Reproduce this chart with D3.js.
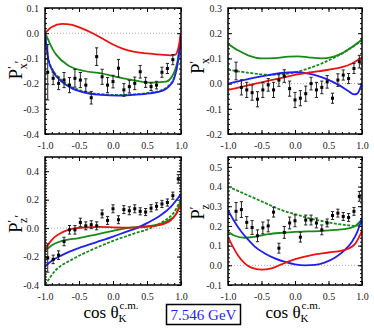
<!DOCTYPE html>
<html>
<head>
<meta charset="utf-8">
<script src="https://cdn.jsdelivr.net/npm/d3@7"></script>
<style>
    body { margin: 0; background: #fff; }
    svg { display: block; font-family: "Liberation Serif", "DejaVu Serif", serif; }
</style>
</head>
<body>
<div id="chart"></div>
<script>
// cos(theta_K) bin centres shared by all four panels
const cosBins = [-0.96, -0.88, -0.80, -0.72, -0.64, -0.56, -0.48, -0.40, -0.32, -0.24, -0.16, -0.08,
    0.00, 0.08, 0.16, 0.24, 0.32, 0.40, 0.48, 0.56, 0.64, 0.72, 0.80, 0.88, 0.96];

// P'x' (top left)
const pxPrimeVals = [-0.155, -0.179, -0.199, -0.186, -0.206, -0.179, -0.186, -0.206, -0.256, -0.093, -0.173, -0.206,
    -0.192, -0.139, -0.225, -0.212, -0.199, -0.153, -0.195, -0.212, -0.206, -0.155, -0.140, -0.105, null];
const pxPrimeErrs = [0.11, 0.025, 0.025, 0.03, 0.03, 0.035, 0.03, 0.025, 0.025, 0.035, 0.03, 0.03,
    0.025, 0.035, 0.025, 0.025, 0.025, 0.025, 0.02, 0.015, 0.015, 0.02, 0.02, 0.02, null];
const pxPrimeRed = [[-1, 0], [-0.9, 0.025], [-0.75, 0.037], [-0.6, 0.033], [-0.45, 0.018], [-0.3, 0.0], [-0.15, -0.022],
    [0, -0.045], [0.15, -0.062], [0.3, -0.073], [0.5, -0.08], [0.7, -0.085], [0.85, -0.088], [0.92, -0.085], [0.96, -0.06], [1, 0]];
const pxPrimeBlue = [[-1, 0], [-0.95, -0.106], [-0.88, -0.153], [-0.78, -0.186], [-0.63, -0.215], [-0.42, -0.236], [-0.17, -0.245],
    [0.07, -0.248], [0.29, -0.245], [0.54, -0.239], [0.73, -0.228], [0.82, -0.212], [0.9, -0.18], [0.96, -0.106], [1, 0]];
const pxPrimeGreen = [[-1, 0], [-0.98, -0.01], [-0.93, -0.04], [-0.88, -0.067], [-0.83, -0.087], [-0.67, -0.126], [-0.42, -0.15],
    [-0.17, -0.159], [0, -0.17], [0.29, -0.186], [0.54, -0.196], [0.78, -0.192], [0.88, -0.166], [0.96, -0.093], [1, 0]];
const pxPrimeGreenDash = [[-1, 0], [-0.95, -0.1], [-0.88, -0.148], [-0.78, -0.18], [-0.63, -0.21], [-0.42, -0.232], [-0.17, -0.242],
    [0.07, -0.245], [0.29, -0.243], [0.54, -0.236], [0.73, -0.225], [0.82, -0.208], [0.9, -0.175], [0.96, -0.1], [1, 0]];

// P'x (top right)
const pxVals = [null, 0.050, -0.015, -0.025, -0.036, -0.062, -0.025, -0.005, -0.025, 0.014, 0.030, -0.020,
    -0.065, -0.058, -0.040, 0.000, -0.025, -0.015, 0.007, -0.058, 0.014, 0.034, 0.020, 0.060, 0.087];
const pxErrs = [null, 0.035, 0.03, 0.03, 0.03, 0.03, 0.03, 0.025, 0.03, 0.025, 0.025, 0.03,
    0.03, 0.03, 0.03, 0.025, 0.03, 0.025, 0.025, 0.02, 0.025, 0.02, 0.02, 0.02, 0.025];
const pxRed = [[-1, -0.025], [-0.75, -0.01], [-0.5, 0.005], [-0.25, 0.02], [0, 0.035], [0.25, 0.045], [0.5, 0.055],
    [0.7, 0.065], [0.85, 0.08], [1, 0.105]];
const pxBlue = [[-1, 0], [-0.8, 0.012], [-0.6, 0.024], [-0.4, 0.034], [-0.2, 0.042], [0, 0.045], [0.2, 0.04], [0.35, 0.03],
    [0.5, 0.015], [0.65, -0.005], [0.8, -0.03], [0.88, -0.043], [0.93, -0.04], [0.97, -0.02], [1, 0]];
const pxGreen = [[-1, 0.158], [-0.85, 0.132], [-0.7, 0.112], [-0.5, 0.1], [-0.3, 0.101], [-0.1, 0.107], [0.05, 0.108],
    [0.2, 0.104], [0.4, 0.1], [0.55, 0.105], [0.7, 0.12], [0.85, 0.145], [1, 0.175]];
const pxGreenDash = [[-1, 0.055], [-0.8, 0.047], [-0.6, 0.04], [-0.4, 0.035], [-0.2, 0.037], [0, 0.045], [0.2, 0.06],
    [0.4, 0.08], [0.6, 0.105], [0.8, 0.135], [1, 0.172]];

// P'z' (bottom left)
const pzPrimeVals = [-0.21, -0.22, -0.19, -0.094, -0.012, -0.012, 0.040, 0.016, 0.024, 0.016, 0.100, 0.054,
    0.136, 0.059, 0.130, 0.122, 0.136, 0.118, 0.113, 0.140, 0.153, 0.170, 0.180, 0.228, 0.346];
const pzPrimeErrs = [0.1, 0.03, 0.03, 0.03, 0.03, 0.03, 0.03, 0.028, 0.028, 0.028, 0.028, 0.028,
    0.028, 0.028, 0.028, 0.028, 0.028, 0.025, 0.025, 0.025, 0.025, 0.025, 0.025, 0.025, 0.03];
const pzPrimeRed = [[-1, -0.15], [-0.93, -0.1], [-0.85, -0.06], [-0.75, -0.03], [-0.6, -0.005], [-0.4, 0.005], [-0.2, 0.008],
    [0, 0.005], [0.2, 0.003], [0.4, 0.005], [0.6, 0.015], [0.75, 0.03], [0.85, 0.055], [0.93, 0.1], [1, 0.17]];
const pzPrimeBlue = [[-1, -0.27], [-0.9, -0.23], [-0.75, -0.19], [-0.5, -0.14], [-0.25, -0.1], [0, -0.06], [0.2, -0.025],
    [0.35, 0.0], [0.5, 0.035], [0.7, 0.09], [0.85, 0.15], [1, 0.24]];
const pzPrimeGreen = [[-1, -0.16], [-0.9, -0.12], [-0.75, -0.09], [-0.5, -0.07], [-0.25, -0.045], [0, -0.02], [0.2, 0.0],
    [0.4, 0.01], [0.6, 0.02], [0.8, 0.05], [0.93, 0.1], [1, 0.21]];
const pzPrimeGreenDash = [[-1, -0.4], [-0.85, -0.3], [-0.6, -0.22], [-0.3, -0.15], [0, -0.09], [0.3, -0.04], [0.55, 0.0],
    [0.75, 0.05], [0.88, 0.1], [1, 0.2]];

// P'z (bottom right)
const pzVals = [null, 0.274, 0.283, 0.218, 0.192, 0.150, 0.190, 0.200, 0.270, 0.087, 0.167, 0.215,
    0.226, 0.143, 0.230, 0.230, 0.215, 0.180, 0.215, 0.253, 0.265, 0.248, 0.243, 0.274, 0.350];
const pzErrs = [null, 0.045, 0.04, 0.03, 0.035, 0.03, 0.03, 0.03, 0.025, 0.025, 0.03, 0.03,
    0.03, 0.025, 0.025, 0.025, 0.025, 0.025, 0.02, 0.02, 0.02, 0.02, 0.02, 0.02, 0.025];
const pzRed = [[-1, 0.145], [-0.92, 0.09], [-0.85, 0.05], [-0.75, 0.01], [-0.65, -0.012], [-0.5, -0.022], [-0.35, -0.015],
    [-0.2, 0.005], [-0.05, 0.025], [0.1, 0.04], [0.3, 0.055], [0.5, 0.065], [0.7, 0.075], [0.8, 0.085], [0.9, 0.11], [1, 0.175]];
const pzBlue = [[-1, 0.28], [-0.9, 0.22], [-0.8, 0.17], [-0.7, 0.13], [-0.6, 0.095], [-0.45, 0.06], [-0.3, 0.035],
    [-0.15, 0.017], [0, 0.005], [0.15, 0.0], [0.3, 0.002], [0.45, 0.015], [0.6, 0.04], [0.75, 0.08], [0.85, 0.12], [0.93, 0.17], [1, 0.24]];
const pzGreen = [[-1, 0.17], [-0.9, 0.15], [-0.75, 0.14], [-0.6, 0.145], [-0.4, 0.158], [-0.2, 0.165], [0, 0.17],
    [0.2, 0.172], [0.4, 0.175], [0.6, 0.18], [0.8, 0.188], [0.9, 0.2], [1, 0.235]];
const pzGreenDash = [[-1, 0.4], [-0.8, 0.37], [-0.6, 0.34], [-0.4, 0.31], [-0.2, 0.28], [0, 0.26], [0.2, 0.24],
    [0.4, 0.225], [0.6, 0.212], [0.8, 0.203], [0.9, 0.2], [1, 0.215]];

const energyLabel = "7.546 GeV";

// colours of the model curves
const RED = "#ee1111", BLUE = "#1f1ff0", GREEN = "#178a17";

const width = 374, height = 332;
const fmt = d3.formatLocale({ decimal: ".", thousands: ",", grouping: [3], currency: ["", ""], minus: "-" }).format(".1f");

const svg = d3.select("#chart").append("svg")
    .attr("width", width)
    .attr("height", height);

// panel layout + which arrays go where
const panels = [
    { left: 45, right: 181, top: 8, bottom: 134, yDomain: [-0.4, 0.1], sub: "x", prime2: true,
      vals: pxPrimeVals, errs: pxPrimeErrs, red: pxPrimeRed, blue: pxPrimeBlue, green: pxPrimeGreen, dash: pxPrimeGreenDash,
      labelX: 22, labelY: 70, xTitle: false },
    { left: 228, right: 362, top: 8, bottom: 134, yDomain: [-0.2, 0.3], sub: "x", prime2: false,
      vals: pxVals, errs: pxErrs, red: pxRed, blue: pxBlue, green: pxGreen, dash: pxGreenDash,
      labelX: 204, labelY: 66, xTitle: false },
    { left: 45, right: 181, top: 157, bottom: 285, yDomain: [-0.4, 0.5], sub: "z", prime2: true,
      vals: pzPrimeVals, errs: pzPrimeErrs, red: pzPrimeRed, blue: pzPrimeBlue, green: pzPrimeGreen, dash: pzPrimeGreenDash,
      labelX: 22, labelY: 224, xTitle: true },
    { left: 228, right: 362, top: 157, bottom: 285, yDomain: [-0.1, 0.55], sub: "z", prime2: false,
      vals: pzVals, errs: pzErrs, red: pzRed, blue: pzBlue, green: pzGreen, dash: pzGreenDash,
      labelX: 204, labelY: 212, xTitle: true }
];

panels.forEach((p, i) => drawPanel(p, i));

function drawPanel(p, i) {
    const x = d3.scaleLinear().domain([-1, 1]).range([p.left, p.right]);
    const y = d3.scaleLinear().domain(p.yDomain).range([p.bottom, p.top]);
    const g = svg.append("g");

    g.append("clipPath").attr("id", "clip" + i)
        .append("rect")
        .attr("x", p.left).attr("y", p.top)
        .attr("width", p.right - p.left).attr("height", p.bottom - p.top);

    // dotted zero line
    g.append("line")
        .attr("x1", x(-1)).attr("x2", x(1))
        .attr("y1", y(0)).attr("y2", y(0))
        .attr("stroke", "#aaa")
        .attr("stroke-width", 1)
        .attr("stroke-dasharray", "1,2");

    // ticks: major + minor, inward on all four sides
    const xMajor = d3.ticks(-1, 1, 4);
    const xMinor = d3.ticks(-1, 1, 20);
    const yMajor = d3.ticks(p.yDomain[0], p.yDomain[1], 6);
    const yMinor = d3.ticks(p.yDomain[0], p.yDomain[1], 30);

    const addAxis = (axis, tx, ty, labels) => {
        const a = g.append("g")
            .attr("transform", `translate(${tx},${ty})`)
            .call(axis);
        a.select(".domain").remove();
        a.selectAll("line").attr("stroke", "#000");
        if (labels) {
            a.selectAll("text")
                .attr("fill", "#222")
                .style("font-size", "10px")
                .style("font-family", '"Liberation Serif", serif');
        }
        return a;
    };

    addAxis(d3.axisBottom(x).tickValues(xMinor).tickSize(-2).tickFormat(""), 0, p.bottom);
    addAxis(d3.axisBottom(x).tickValues(xMajor).tickSize(-4).tickPadding(8).tickFormat(fmt), 0, p.bottom, true);
    addAxis(d3.axisTop(x).tickValues(xMinor).tickSize(-2).tickFormat(""), 0, p.top);
    addAxis(d3.axisTop(x).tickValues(xMajor).tickSize(-4).tickFormat(""), 0, p.top);
    addAxis(d3.axisLeft(y).tickValues(yMinor).tickSize(-2).tickFormat(""), p.left, 0);
    addAxis(d3.axisLeft(y).tickValues(yMajor).tickSize(-4).tickPadding(6).tickFormat(fmt), p.left, 0, true);
    addAxis(d3.axisRight(y).tickValues(yMinor).tickSize(-2).tickFormat(""), p.right, 0);
    addAxis(d3.axisRight(y).tickValues(yMajor).tickSize(-4).tickFormat(""), p.right, 0);

    // model curves
    const line = d3.line()
        .x(d => x(d[0]))
        .y(d => y(d[1]))
        .curve(d3.curveMonotoneX);

    const curves = [
        { data: p.dash, color: GREEN, dash: "3,1.5" },
        { data: p.green, color: GREEN, dash: null },
        { data: p.blue, color: BLUE, dash: null },
        { data: p.red, color: RED, dash: null }
    ];
    curves.forEach(c => {
        g.append("path")
            .datum(c.data)
            .attr("clip-path", `url(#clip${i})`)
            .attr("d", line)
            .attr("fill", "none")
            .attr("stroke", c.color)
            .attr("stroke-width", 1.8)
            .attr("stroke-dasharray", c.dash);
    });

    // data points with error bars
    const pts = cosBins.map((c, k) => ({ c: c, v: p.vals[k], e: p.errs[k] }))
        .filter(d => d.v !== null);

    const pt = g.append("g").selectAll("g")
        .data(pts)
        .join("g");

    pt.append("line")
        .attr("x1", d => x(d.c)).attr("x2", d => x(d.c))
        .attr("y1", d => y(d.v - d.e)).attr("y2", d => y(d.v + d.e))
        .attr("stroke", "#222").attr("stroke-width", 1);
    [-1, 1].forEach(s => {
        pt.append("line")
            .attr("x1", d => x(d.c) - 1.6).attr("x2", d => x(d.c) + 1.6)
            .attr("y1", d => y(d.v + s * d.e)).attr("y2", d => y(d.v + s * d.e))
            .attr("stroke", "#222").attr("stroke-width", 1);
    });
    pt.append("rect")
        .attr("x", d => x(d.c) - 1.5).attr("y", d => y(d.v) - 1.5)
        .attr("width", 3).attr("height", 3)
        .attr("fill", "#000");

    // frame
    g.append("rect")
        .attr("x", p.left).attr("y", p.top)
        .attr("width", p.right - p.left).attr("height", p.bottom - p.top)
        .attr("fill", "none")
        .attr("stroke", "#000")
        .attr("stroke-width", 1.5);

    // y label  P'x' etc.
    const yl = g.append("text")
        .attr("transform", `translate(${p.labelX},${p.labelY}) rotate(-90)`)
        .attr("text-anchor", "middle")
        .style("font-size", "19px");
    yl.append("tspan").text("P");
    yl.append("tspan").attr("dy", -6).style("font-size", "12px").text("\u2032");
    yl.append("tspan").attr("dx", -3).attr("dy", 11).style("font-size", "12px").text(p.sub);
    if (p.prime2) yl.append("tspan").attr("dy", -4).style("font-size", "12px").text("\u2032");

    // x title under the bottom panels
    if (p.xTitle) {
        const cx = (p.left + p.right) / 2;
        const xt = g.append("text")
            .attr("x", cx - 2).attr("y", 318)
            .attr("text-anchor", "middle")
            .style("font-size", "17px");
        xt.append("tspan").text("cos \u03B8");
        xt.append("tspan").attr("dy", 4).style("font-size", "11px").text("K");
        xt.append("tspan").attr("dx", -7).attr("dy", -13).style("font-size", "11px").text("c.m.");
    }
}

// energy box
svg.append("rect")
    .attr("x", 166.5).attr("y", 304.5)
    .attr("width", 74).attr("height", 20)
    .attr("fill", "#fff")
    .attr("stroke", "#000")
    .attr("stroke-width", 1.5);
svg.append("text")
    .attr("x", 203.5).attr("y", 320)
    .attr("text-anchor", "middle")
    .attr("fill", BLUE)
    .style("font-size", "15px")
    .text(energyLabel);
</script>
</body>
</html>
